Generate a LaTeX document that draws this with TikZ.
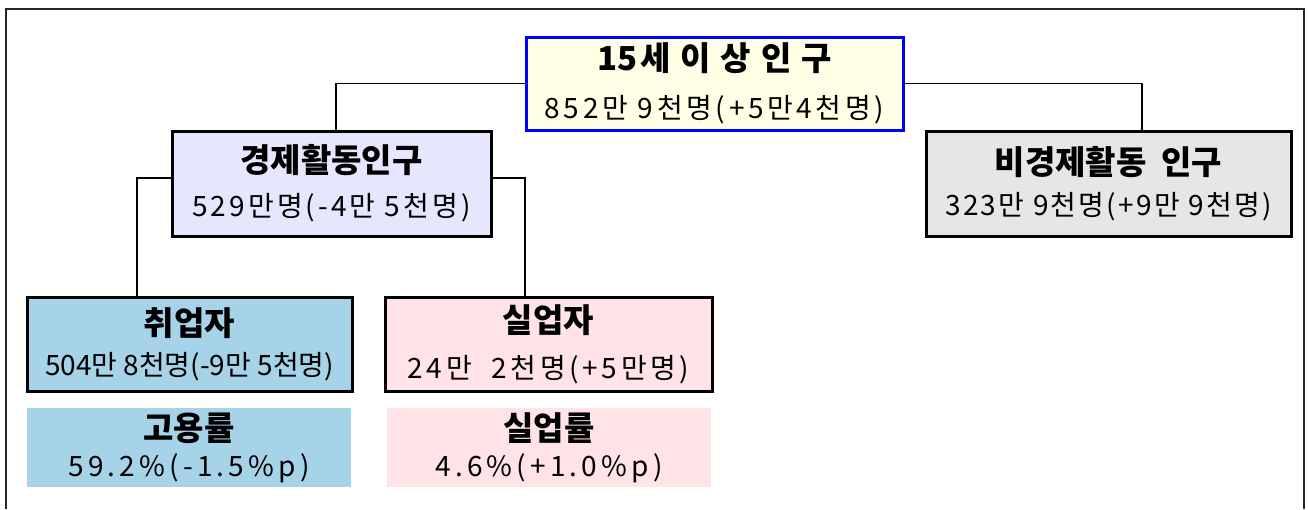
\documentclass[tikz,border=0pt]{standalone}
\usepackage{fontspec}
\setmainfont{Noto Sans CJK KR}
\newfontfamily\spacedfont[LetterSpace=30]{Noto Sans CJK KR}
\usetikzlibrary{positioning}

\definecolor{popfill}{HTML}{FFFFE6}
\definecolor{popline}{HTML}{0000FF}
\definecolor{ecofill}{HTML}{E6E6FF}
\definecolor{nonfill}{HTML}{E6E6E6}
\definecolor{empfill}{HTML}{A6D3E8}
\definecolor{unfill}{HTML}{FFE3E6}

\newcommand\headtxt[1]{{\fontsize{33}{38}\selectfont\bfseries #1}}
\newcommand\subtxt[2]{{\addfontfeature{LetterSpace=#1}#2}}

\begin{document}
\begin{tikzpicture}[x=1pt,y=-1pt,
    font=\fontsize{28}{32}\selectfont,
    box/.style={draw=black,line width=3pt,align=center,inner sep=0pt},
    ratebox/.style={align=center,inner sep=0pt,minimum width=324pt,minimum height=79pt},
    link/.style={line width=1.2pt}]
    \useasboundingbox (0,0) rectangle (1308,509);
    % outer frame
    \draw[line width=1.2pt,black!85] (6,509) -- (6,9) -- (1304,9) -- (1304,509);

    \node[box,draw=popline,fill=popfill,minimum width=377pt,minimum height=93pt] (pop) at (714.5,83.5)
        {\headtxt{15\hspace{3pt}{\spacedfont 세이상인구}}\\[16pt] \subtxt{13}{852만 9천명(+5만4천명)}};
    \node[box,fill=ecofill,minimum width=319pt,minimum height=105pt] (eco) at (331.5,183.5)
        {\headtxt{경제활동인구}\\[12pt] \subtxt{11}{529만명(-4만 5천명)}};
    \node[box,fill=nonfill,minimum width=365pt,minimum height=105pt] (noneco) at (1108.5,183.5)
        {\headtxt{비경제활동 \ 인구}\\[9pt] \subtxt{8}{323만 9천명(+9만 9천명)}};

    \node[box,fill=empfill,minimum width=325pt,minimum height=94pt] (emp) at (189.5,344)
        {\headtxt{취업자}\\[8pt] \subtxt{0}{504만 8천명(-9만 5천명)}};
    \node[box,fill=unfill,minimum width=327pt,minimum height=94pt] (unemp) at (548.5,344)
        {\headtxt{실업자}\\[14pt] \subtxt{13}{24만 \ 2천명(+5만명)}};

    \node[ratebox,fill=empfill] (emprate) at (189,447.5)
        {\headtxt{고용률}\\[4pt] \subtxt{15}{59.2\%(-1.5\%p)}};
    \node[ratebox,fill=unfill] (unrate) at (549,447.5)
        {\headtxt{실업률}\\[4pt] \subtxt{15}{4.6\%(+1.0\%p)}};

    % connectors
    \draw[link] (pop.west) -| ([xshift=4.5pt]eco.north);
    \draw[link] (pop.east) -| ([xshift=33.5pt]noneco.north);
    \draw[link] ([yshift=5.5pt]eco.west) -| ([xshift=-52.5pt]emp.north);
    \draw[link] ([yshift=5.5pt]eco.east) -| ([xshift=-23.5pt]unemp.north);
\end{tikzpicture}
\end{document}
